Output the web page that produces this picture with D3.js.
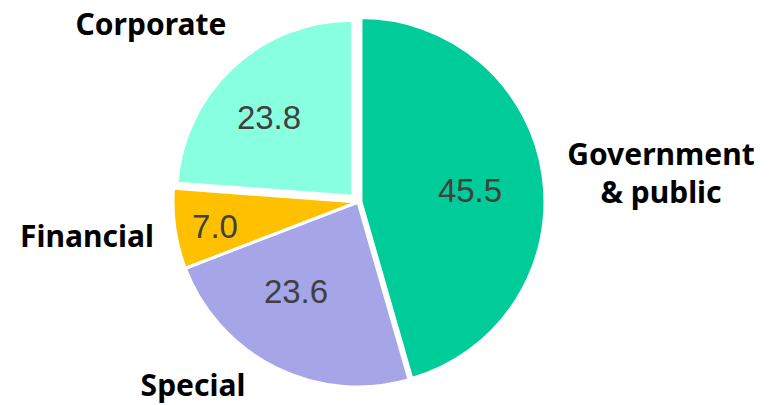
<!DOCTYPE html>
<html>
<head>
<meta charset="utf-8">
<script src="https://cdn.jsdelivr.net/npm/d3@7"></script>
<style>
  html, body { margin: 0; padding: 0; background: #ffffff; }
  svg { display: block; }
</style>
</head>
<body>
<svg id="chart" width="775" height="405"></svg>
<script>
// ---- data ----
const categories = ["Government & public", "Special", "Financial", "Corporate"];
const values = [45.5, 23.6, 7.0, 23.8];
const valueLabels = ["45.5", "23.6", "7.0", "23.8"];
const labelLines = [["Government", "& public"], ["Special"], ["Financial"], ["Corporate"]];

// ---- layout / style ----
const W = 775, H = 405;
const center = [358, 202];
const colors = ["#00CC99", "#A5A5E8", "#FFC000", "#88FFDE"];
const radii = [184, 185, 185, 176];
const explode = [3, 0, 0, 8];
const valueLabelPos = [[470, 202], [296, 303], [215, 238], [269, 129]];
const catLabelPos = [[661, 165], [193, 396], [87, 247], [151, 35]];
const lineGap = 38;

const svg = d3.select("#chart");
const pie = d3.pie().sort(null).value(d => d)(values);
const g = svg.append("g").attr("transform", `translate(${center[0]},${center[1]})`);

g.selectAll("path.slice")
  .data(pie)
  .join("path")
  .attr("class", "slice")
  .attr("d", (d, i) => d3.arc().innerRadius(0).outerRadius(radii[i])(d))
  .attr("transform", (d, i) => {
    const mid = (d.startAngle + d.endAngle) / 2;
    return `translate(${Math.sin(mid) * explode[i]},${-Math.cos(mid) * explode[i]})`;
  })
  .attr("fill", (d, i) => colors[i])
  .attr("stroke", "#ffffff")
  .attr("stroke-width", 3)
  .attr("stroke-linejoin", "round");

svg.selectAll("text.val")
  .data(valueLabels)
  .join("text")
  .attr("class", "val")
  .attr("x", (d, i) => valueLabelPos[i][0])
  .attr("y", (d, i) => valueLabelPos[i][1])
  .attr("text-anchor", "middle")
  .attr("font-family", "'Liberation Sans', Arial, sans-serif")
  .attr("font-size", 33)
  .attr("fill", "#404040")
  .text(d => d);

const cat = svg.selectAll("text.cat")
  .data(labelLines)
  .join("text")
  .attr("class", "cat")
  .attr("text-anchor", "middle")
  .attr("font-family", "'Noto Sans', 'Open Sans', sans-serif")
  .attr("font-weight", 700)
  .attr("font-size", 30)
  .attr("fill", "#000000");

cat.selectAll("tspan")
  .data((d, i) => d.map((line, j) => ({ line, j, i })))
  .join("tspan")
  .attr("x", d => catLabelPos[d.i][0])
  .attr("y", d => catLabelPos[d.i][1] + d.j * lineGap)
  .text(d => d.line);
</script>
</body>
</html>
